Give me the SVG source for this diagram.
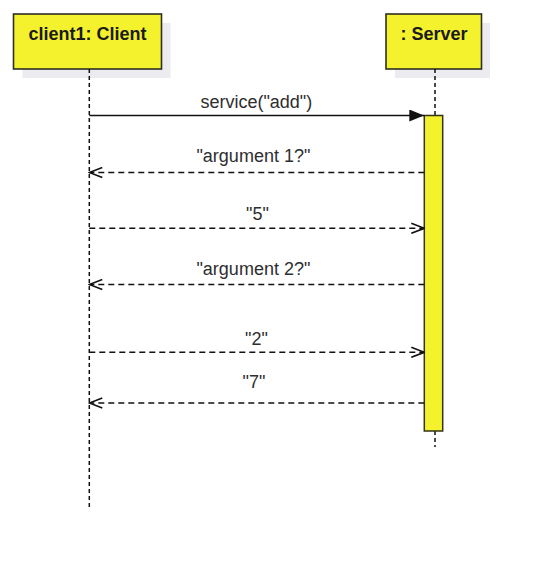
<svg xmlns="http://www.w3.org/2000/svg" width="537" height="564" viewBox="0 0 537 564">
<defs>
<style>
.shadow{fill:#ececf0;}
.box{fill:#f4f22c;stroke:#2e2e22;stroke-width:1.6;}
.title{font-family:"Liberation Sans",Arial,sans-serif;font-size:18px;font-weight:bold;fill:#1a1a1a;text-anchor:middle;}
.label{font-family:"Liberation Sans",Arial,sans-serif;font-size:18px;fill:#2e2e2e;text-anchor:middle;}
.life{stroke:#111;stroke-width:1.5;stroke-dasharray:4,3;fill:none;}
.call{stroke:#111;stroke-width:1.5;fill:none;}
.ret{stroke:#111;stroke-width:1.5;stroke-dasharray:6,4;fill:none;}
.act{fill:#f4f22c;stroke:#33331a;stroke-width:1.5;}
</style>
<marker id="filled" viewBox="0 0 15 12" refX="15" refY="6" markerWidth="15" markerHeight="12" markerUnits="userSpaceOnUse" orient="auto">
<path d="M0,0 L15,6 L0,12 Z" fill="#111"/>
</marker>
<marker id="open" viewBox="0 0 15 12" refX="14" refY="6" markerWidth="15" markerHeight="12" markerUnits="userSpaceOnUse" orient="auto">
<path d="M1,1 L14,6 L1,11" fill="none" stroke="#111" stroke-width="1.6"/>
</marker>
</defs>
<rect width="537" height="564" fill="#fff"/>
<g id="client">
<rect class="shadow" x="22.5" y="23" width="148" height="55"/>
<rect class="box" x="13.5" y="14" width="148" height="55"/>
<text class="title" x="87.5" y="39.5">client1: Client</text>
</g>
<g id="server">
<rect class="shadow" x="395" y="23" width="95" height="55"/>
<rect class="box" x="386" y="14" width="95.5" height="55"/>
<text class="title" x="434" y="39.5">: Server</text>
</g>
<g id="lifelines">
<line class="life" x1="89.3" y1="69" x2="89.3" y2="507"/>
<line class="life" x1="435" y1="69" x2="435" y2="115"/>
<line class="life" x1="435" y1="431" x2="435" y2="447"/>
</g>
<g id="activation">
<rect class="act" x="424.3" y="115.5" width="18.4" height="315.5"/>
</g>
<g id="connectors">
<line class="call" x1="89.3" y1="115.5" x2="424.3" y2="115.5" marker-end="url(#filled)"/>
<line class="ret" x1="424.3" y1="172.5" x2="89.3" y2="172.5" marker-end="url(#open)"/>
<line class="ret" x1="89.3" y1="228.3" x2="424.3" y2="228.3" marker-end="url(#open)"/>
<line class="ret" x1="424.3" y1="284.5" x2="89.3" y2="284.5" marker-end="url(#open)"/>
<line class="ret" x1="89.3" y1="352.3" x2="424.3" y2="352.3" marker-end="url(#open)"/>
<line class="ret" x1="424.3" y1="403" x2="89.3" y2="403" marker-end="url(#open)"/>
</g>
<g id="labels">
<text class="label" x="256.3" y="108.3">service("add")</text>
<text class="label" x="253.4" y="162.3">"argument 1?"</text>
<text class="label" x="257.5" y="220">"5"</text>
<text class="label" x="253.4" y="275">"argument 2?"</text>
<text class="label" x="256.5" y="345">"2"</text>
<text class="label" x="254" y="388.3">"7"</text>
</g>
</svg>
